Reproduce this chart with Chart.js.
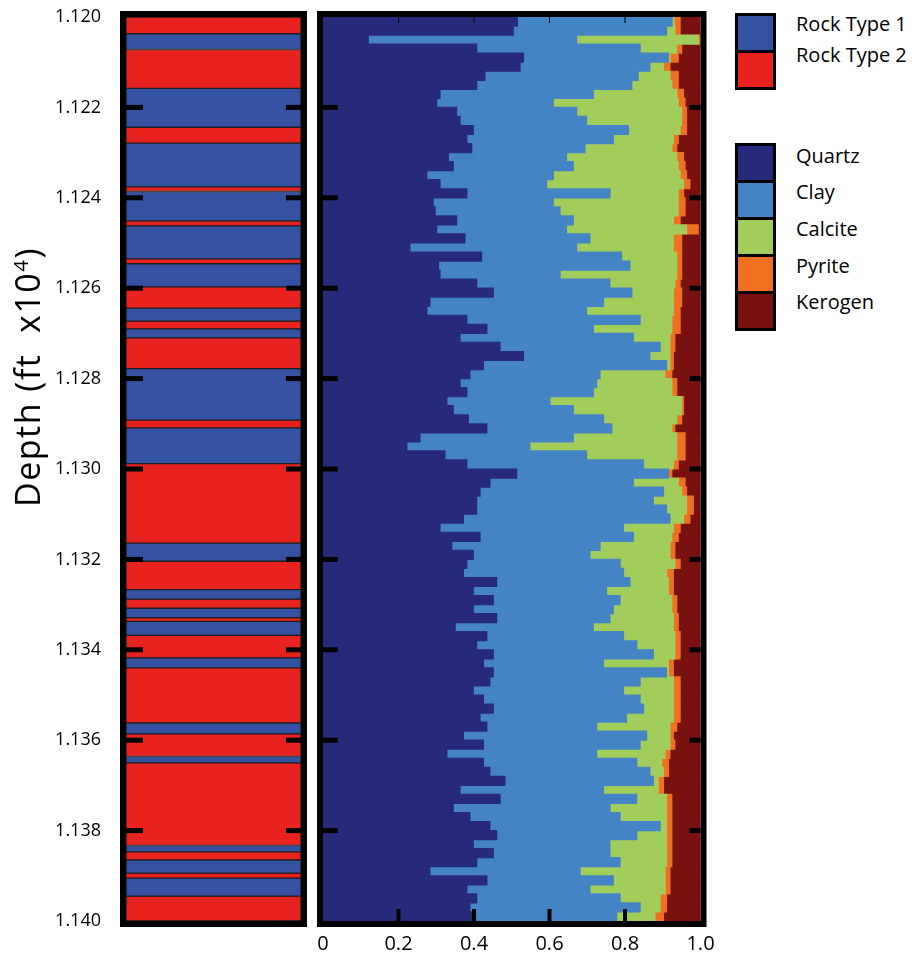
<!DOCTYPE html>
<html>
<head>
<meta charset="utf-8">
<script src="https://cdn.jsdelivr.net/npm/chart.js@4.4.1/dist/chart.umd.min.js"></script>
<style>
  html, body { margin: 0; padding: 0; background: #fff; }
  body { width: 916px; height: 957px; position: relative; overflow: hidden; font-family: 'Open Sans', sans-serif; color: #000; }
  #rockCanvas { position: absolute; left: 0; top: 0; }
  #mineralCanvas { position: absolute; left: 310px; top: 0; }
  #depthTitle {
    position: absolute; left: -133px; top: 357px; width: 320px; height: 40px;
    line-height: 40px; text-align: center; font-size: 34px; letter-spacing: 1.5px; white-space: nowrap;
    transform: rotate(-90deg);
  }
  #depthTitle sup { font-size: 60%; line-height: 0; }
  .legend-box {
    position: absolute; left: 735px; width: 35px; background: #000; border: 3px solid #000;
    display: flex; flex-direction: column; gap: 3px;
  }
  .legend-box div { height: 34px; }
  .legend-label { position: absolute; left: 796px; font-size: 20px; line-height: 20px; white-space: nowrap; }
</style>
</head>
<body>
<canvas id="rockCanvas" width="310" height="957"></canvas>
<canvas id="mineralCanvas" width="420" height="957"></canvas>
<div id="depthTitle">Depth (ft&nbsp; x10<sup>4</sup>)</div>
<div id="legend"></div>
<script>
// axis ticks
const depthTicks = [1.120, 1.122, 1.124, 1.126, 1.128, 1.130, 1.132, 1.134, 1.136, 1.138, 1.140];
const xTicks = [0, 0.2, 0.4, 0.6, 0.8, 1.0];
const xTickLabels = ['0', '0.2', '0.4', '0.6', '0.8', '1.0'];

// rock type column: band edges (depth, ft x10^4) and type of each band
const rockTypeNames = ['Rock Type 1', 'Rock Type 2'];
const bandEdges = [1.12000, 1.12037, 1.12072, 1.12158, 1.12244, 1.12279, 1.12376, 1.12386, 1.12451, 1.12462,
  1.12535, 1.12546, 1.12597, 1.12644, 1.12673, 1.12690, 1.12710, 1.12778, 1.12892, 1.12909,
  1.12988, 1.13164, 1.13204, 1.13267, 1.13288, 1.13308, 1.13329, 1.13337, 1.13368, 1.13418,
  1.13440, 1.13562, 1.13586, 1.13636, 1.13650, 1.13833, 1.13847, 1.13865, 1.13894, 1.13905,
  1.13945, 1.14000];
const bandType = [2, 1, 2, 1, 2, 1, 2, 1, 2, 1, 2, 1, 2, 1, 2, 1, 2, 1, 2, 1,
  2, 1, 2, 1, 2, 1, 2, 1, 2, 1, 2, 1, 2, 1, 2, 1, 2, 1, 2, 1, 2];

// mineral fractions: sample depths and cumulative tops of each layer
const mineralNames = ['Quartz', 'Clay', 'Calcite', 'Pyrite', 'Kerogen'];
const depth = [
  1.1201, 1.1203, 1.1205, 1.1207, 1.1209, 1.1211, 1.1213, 1.1215, 1.1217, 1.1219,
  1.1221, 1.1223, 1.1225, 1.1227, 1.1229, 1.1231, 1.1233, 1.1235, 1.1237, 1.1239,
  1.1241, 1.1243, 1.1245, 1.1247, 1.1249, 1.1251, 1.1253, 1.1255, 1.1257, 1.1259,
  1.1261, 1.1263, 1.1265, 1.1267, 1.1269, 1.1271, 1.1273, 1.1275, 1.1277, 1.1279,
  1.1281, 1.1283, 1.1285, 1.1287, 1.1289, 1.1291, 1.1293, 1.1295, 1.1297, 1.1299,
  1.1301, 1.1303, 1.1305, 1.1307, 1.1309, 1.1311, 1.1313, 1.1315, 1.1317, 1.1319,
  1.1321, 1.1323, 1.1325, 1.1327, 1.1329, 1.1331, 1.1333, 1.1335, 1.1337, 1.1339,
  1.1341, 1.1343, 1.1345, 1.1347, 1.1349, 1.1351, 1.1353, 1.1355, 1.1357, 1.1359,
  1.1361, 1.1363, 1.1365, 1.1367, 1.1369, 1.1371, 1.1373, 1.1375, 1.1377, 1.1379,
  1.1381, 1.1383, 1.1385, 1.1387, 1.1389, 1.1391, 1.1393, 1.1395, 1.1397, 1.1399];
const quartzTop = [
  0.515, 0.504, 0.120, 0.407, 0.531, 0.522, 0.429, 0.407, 0.310, 0.301,
  0.354, 0.363, 0.398, 0.381, 0.394, 0.332, 0.345, 0.275, 0.310, 0.381,
  0.292, 0.297, 0.354, 0.301, 0.376, 0.230, 0.420, 0.306, 0.310, 0.407,
  0.451, 0.283, 0.275, 0.381, 0.434, 0.363, 0.469, 0.531, 0.425, 0.389,
  0.363, 0.381, 0.328, 0.345, 0.385, 0.434, 0.257, 0.222, 0.323, 0.381,
  0.513, 0.442, 0.416, 0.407, 0.407, 0.372, 0.310, 0.416, 0.341, 0.398,
  0.381, 0.372, 0.460, 0.398, 0.451, 0.398, 0.460, 0.350, 0.434, 0.407,
  0.451, 0.425, 0.451, 0.442, 0.398, 0.425, 0.451, 0.416, 0.434, 0.372,
  0.425, 0.328, 0.425, 0.442, 0.482, 0.363, 0.469, 0.345, 0.389, 0.442,
  0.460, 0.398, 0.451, 0.407, 0.283, 0.434, 0.381, 0.407, 0.389, 0.398];
const clayTop = [
  0.925, 0.910, 0.672, 0.840, 0.915, 0.866, 0.835, 0.818, 0.716, 0.610,
  0.672, 0.698, 0.809, 0.769, 0.694, 0.645, 0.663, 0.610, 0.592, 0.760,
  0.610, 0.628, 0.663, 0.645, 0.707, 0.672, 0.791, 0.813, 0.628, 0.760,
  0.818, 0.743, 0.698, 0.840, 0.716, 0.822, 0.893, 0.866, 0.910, 0.734,
  0.725, 0.716, 0.601, 0.663, 0.743, 0.765, 0.663, 0.548, 0.698, 0.849,
  0.915, 0.822, 0.902, 0.875, 0.910, 0.919, 0.796, 0.822, 0.734, 0.707,
  0.787, 0.796, 0.813, 0.751, 0.787, 0.769, 0.760, 0.716, 0.796, 0.831,
  0.875, 0.743, 0.910, 0.840, 0.796, 0.840, 0.849, 0.804, 0.725, 0.857,
  0.840, 0.725, 0.831, 0.866, 0.875, 0.743, 0.831, 0.760, 0.787, 0.893,
  0.831, 0.760, 0.760, 0.787, 0.681, 0.769, 0.707, 0.787, 0.840, 0.778];
const calciteTop = [
  0.930, 0.932, 0.994, 0.937, 0.919, 0.902, 0.919, 0.924, 0.937, 0.941,
  0.950, 0.950, 0.946, 0.928, 0.924, 0.937, 0.941, 0.946, 0.955, 0.941,
  0.941, 0.941, 0.928, 0.963, 0.928, 0.928, 0.937, 0.937, 0.937, 0.932,
  0.928, 0.928, 0.928, 0.924, 0.924, 0.919, 0.919, 0.919, 0.919, 0.906,
  0.924, 0.924, 0.950, 0.950, 0.937, 0.924, 0.937, 0.937, 0.937, 0.928,
  0.915, 0.941, 0.950, 0.963, 0.963, 0.955, 0.928, 0.924, 0.919, 0.919,
  0.932, 0.910, 0.915, 0.915, 0.924, 0.924, 0.928, 0.928, 0.932, 0.932,
  0.932, 0.915, 0.915, 0.928, 0.928, 0.928, 0.928, 0.928, 0.919, 0.919,
  0.919, 0.906, 0.897, 0.902, 0.888, 0.888, 0.910, 0.910, 0.910, 0.910,
  0.910, 0.910, 0.910, 0.910, 0.906, 0.906, 0.906, 0.893, 0.893, 0.879];
const pyriteTop = [
  0.946, 0.946, 0.999, 0.950, 0.941, 0.919, 0.941, 0.941, 0.955, 0.959,
  0.963, 0.963, 0.963, 0.941, 0.937, 0.955, 0.959, 0.963, 0.972, 0.955,
  0.959, 0.959, 0.946, 0.994, 0.950, 0.950, 0.950, 0.950, 0.950, 0.946,
  0.950, 0.950, 0.946, 0.946, 0.946, 0.932, 0.932, 0.928, 0.928, 0.924,
  0.937, 0.937, 0.955, 0.955, 0.950, 0.932, 0.959, 0.959, 0.959, 0.941,
  0.924, 0.959, 0.963, 0.981, 0.981, 0.972, 0.946, 0.941, 0.932, 0.932,
  0.946, 0.928, 0.928, 0.928, 0.937, 0.937, 0.941, 0.941, 0.946, 0.946,
  0.946, 0.928, 0.928, 0.946, 0.946, 0.946, 0.946, 0.946, 0.937, 0.928,
  0.932, 0.919, 0.915, 0.915, 0.902, 0.902, 0.924, 0.924, 0.924, 0.924,
  0.924, 0.924, 0.924, 0.924, 0.919, 0.919, 0.919, 0.910, 0.910, 0.902];

const rockColors = ['#3552a2', '#e8231f'];
const mineralColors = ['#272a7a', '#4584c4', '#a2cd5b', '#f07022', '#7a1111'];

Chart.defaults.font.family = "'Open Sans', sans-serif";
Chart.defaults.color = '#000';

// black frame plus the little black tick marks drawn inside the panels
const panelMarks = {
  id: 'panelMarks',
  afterDatasetsDraw(chart, args, opts) {
    const { ctx, chartArea: a, scales } = chart;
    ctx.save();
    ctx.fillStyle = '#000';
    depthTicks.slice(1, -1).forEach(d => {
      const py = scales.y.getPixelForValue(d);
      ctx.fillRect(a.left, py - 2.5, opts.left, 5);
      ctx.fillRect(a.right - opts.right, py - 2.5, opts.right, 5);
    });
    if (opts.xTicks) {
      xTicks.slice(1, -1).forEach(v => {
        const px = scales.x.getPixelForValue(v);
        ctx.fillRect(px - 2, a.bottom - 12, 4, 12);
        ctx.fillRect(px - 0.5, a.top, 1, 6);
      });
    }
    ctx.lineWidth = 6;
    ctx.strokeStyle = '#000';
    ctx.strokeRect(a.left - 3, a.top - 3, a.right - a.left + 6, a.bottom - a.top + 6);
    ctx.restore();
  }
};

// left panel: rock type bands
new Chart(document.getElementById('rockCanvas'), {
  type: 'bar',
  data: {
    labels: ['core'],
    datasets: rockTypeNames.map((name, k) => ({
      label: name,
      data: bandType
        .map((t, i) => t === k + 1 ? { x: 'core', y: [bandEdges[i], bandEdges[i + 1]] } : null)
        .filter(Boolean),
      backgroundColor: rockColors[k],
      borderColor: '#1c1c1c',
      borderWidth: 1,
      borderSkipped: false,
      grouped: false,
      barPercentage: 1,
      categoryPercentage: 1
    }))
  },
  options: {
    responsive: false,
    animation: false,
    events: [],
    layout: { padding: { top: 17, right: 9, bottom: 36, left: 0 } },
    plugins: {
      legend: { display: false },
      tooltip: { enabled: false },
      panelMarks: { left: 17, right: 15 }
    },
    scales: {
      x: { display: false },
      y: {
        type: 'linear', reverse: true, min: 1.12, max: 1.14,
        // tickLength (not drawn) keeps the labels away from the frame
        grid: { display: false, drawTicks: true, tickLength: 25 },
        border: { display: false },
        afterBuildTicks: s => { s.ticks = depthTicks.map(v => ({ value: v })); },
        afterFit: s => { s.width = 126; },
        ticks: { padding: 0, font: { size: 18 }, color: '#000', callback: v => v.toFixed(3) }
      }
    }
  },
  plugins: [panelMarks]
});

// right panel: stacked mineral fractions
const bounds = [depth.map(() => 0), quartzTop, clayTop, calciteTop, pyriteTop, depth.map(() => 1)];
new Chart(document.getElementById('mineralCanvas'), {
  type: 'bar',
  data: {
    datasets: mineralNames.map((name, k) => ({
      label: name,
      data: depth.map((d, i) => ({ y: d, x: [bounds[k][i], bounds[k + 1][i]] })),
      backgroundColor: mineralColors[k],
      borderWidth: 0,
      inflateAmount: 0.6,
      grouped: false,
      barPercentage: 1,
      categoryPercentage: 1
    }))
  },
  options: {
    indexAxis: 'y',
    responsive: false,
    animation: false,
    events: [],
    layout: { padding: { top: 17, right: 29.5, bottom: 0, left: 13 } },
    plugins: {
      legend: { display: false },
      tooltip: { enabled: false },
      panelMarks: { left: 15, right: 11, xTicks: true }
    },
    scales: {
      x: {
        type: 'linear', min: 0, max: 1,
        grid: { display: false, drawTicks: true, tickLength: 11 },
        border: { display: false },
        afterBuildTicks: s => { s.ticks = xTicks.map(v => ({ value: v })); },
        afterFit: s => { s.height = 36; },
        ticks: { padding: 0, font: { size: 20 }, color: '#000', callback: (v, i) => xTickLabels[i] }
      },
      y: { type: 'linear', reverse: true, min: 1.12, max: 1.14, offset: false, display: false }
    }
  },
  plugins: [panelMarks]
});

// legend: two framed swatch columns with labels
const legend = document.getElementById('legend');
function addGroup(names, colors, boxTop, labelTops) {
  const box = document.createElement('div');
  box.className = 'legend-box';
  box.style.top = boxTop + 'px';
  colors.forEach(c => {
    const sw = document.createElement('div');
    sw.style.background = c;
    box.appendChild(sw);
  });
  legend.appendChild(box);
  names.forEach((n, i) => {
    const lab = document.createElement('div');
    lab.className = 'legend-label';
    lab.style.top = labelTops[i] + 'px';
    lab.textContent = n;
    legend.appendChild(lab);
  });
}
addGroup(rockTypeNames, rockColors, 13, [14, 45]);
addGroup(mineralNames, mineralColors, 143, [145.5, 182.2, 218.9, 255.5, 292.2]);
</script>
</body>
</html>
